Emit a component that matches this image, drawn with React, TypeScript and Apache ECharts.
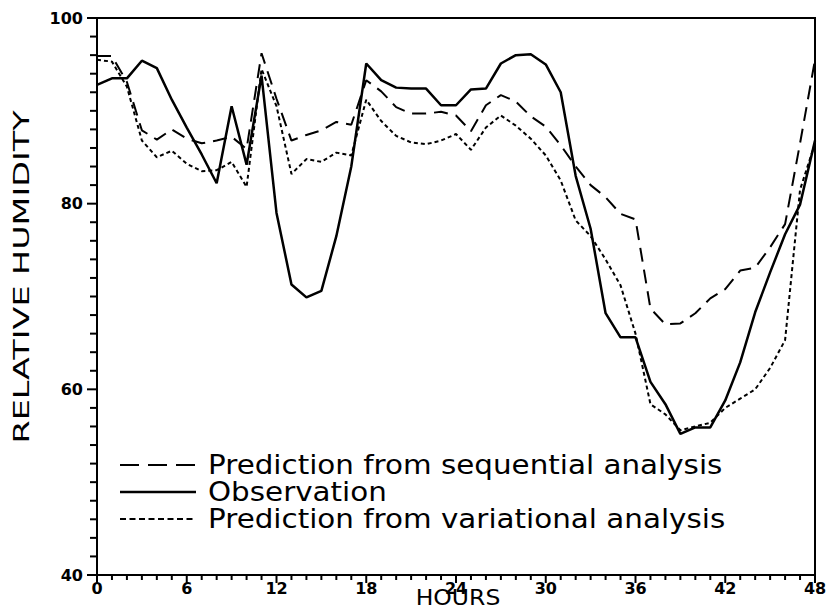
import React, { useEffect, useRef } from "react";
import * as echarts from "echarts";

const hours = [
  0, 1, 2, 3, 4, 5, 6, 7, 8, 9, 10, 11, 12, 13, 14, 15, 16, 17, 18, 19, 20, 21, 22, 23, 24,
  25, 26, 27, 28, 29, 30, 31, 32, 33, 34, 35, 36, 37, 38, 39, 40, 41, 42, 43, 44, 45, 46, 47, 48,
];

const sequential = [
  95.9, 95.9, 93.1, 87.9, 86.9, 88.0, 87.0, 86.5, 86.8, 87.2,
  85.9, 96.2, 91.3, 86.8, 87.4, 87.9, 88.8, 88.5, 93.3, 92.1,
  90.4, 89.7, 89.7, 89.9, 89.5, 87.8, 90.6, 91.7, 91.0, 89.4,
  88.3, 86.3, 84.0, 82.0, 80.7, 78.9, 78.3, 68.7, 67.0, 67.1,
  68.2, 69.8, 70.8, 72.8, 73.1, 75.3, 77.8, 86.5, 95.5,
];

const observation = [
  92.8, 93.5, 93.5, 95.4, 94.6, 91.2, 88.2, 85.3, 82.2, 90.5,
  84.2, 93.8, 79.0, 71.3, 69.9, 70.6, 76.5, 84.0, 95.1, 93.3,
  92.5, 92.4, 92.4, 90.6, 90.6, 92.3, 92.4, 95.1, 96.0, 96.1,
  95.0, 92.0, 83.0, 77.3, 68.2, 65.6, 65.6, 60.8, 58.4, 55.2,
  55.9, 55.9, 58.8, 62.9, 68.3, 72.6, 76.7, 79.9, 86.8,
];

const variational = [
  95.5, 95.3, 92.6, 86.8, 85.0, 85.7, 84.3, 83.5, 83.6, 84.5,
  81.8, 94.5, 90.5, 83.2, 84.8, 84.5, 85.5, 85.2, 91.2, 88.9,
  87.3, 86.6, 86.4, 86.8, 87.5, 85.8, 88.2, 89.5, 88.4, 87.0,
  85.2, 82.5, 78.2, 76.5, 74.0, 71.2, 66.0, 58.4, 57.3, 55.6,
  56.0, 56.4, 58.0, 59.0, 60.0, 62.3, 65.3, 81.5, 86.5,
];

const seriesNames = [
  "Prediction from sequential analysis",
  "Observation",
  "Prediction from variational analysis",
];

// tick positions (every hour on x, every 2 % on y)
const xTickValues = hours;
const yTickValues = [
  40, 42, 44, 46, 48, 50, 52, 54, 56, 58, 60, 62, 64, 66, 68, 70,
  72, 74, 76, 78, 80, 82, 84, 86, 88, 90, 92, 94, 96, 98, 100,
];

const xAxisTitle = "HOURS";
const yAxisTitle = "RELATIVE HUMIDITY";

export default function App() {
  const ref = useRef<HTMLDivElement>(null);

  useEffect(() => {
    const chart = echarts.init(ref.current!, null, { renderer: "svg" });
    const toPairs = (vals: number[]) => hours.map((h, i) => [h, vals[i]]);
    const seriesData = [sequential, observation, variational];
    const lineTypes: any[] = [[14, 8], "solid", [4, 3]];
    const lineWidths = [2, 2.5, 2];
    const legendDash: any[] = [[19, 9], null, [6, 3.5]];
    const legendY = [465, 492, 519];
    const font = "DejaVu Sans";

    const legendGraphics: any[] = [];
    seriesNames.forEach((name, i) => {
      legendGraphics.push({
        type: "line",
        shape: { x1: 120, y1: legendY[i], x2: 196, y2: legendY[i] },
        style: {
          stroke: "#000",
          lineWidth: lineWidths[i],
          lineDash: legendDash[i] || undefined,
        },
      });
      legendGraphics.push({
        type: "text",
        x: 208,
        y: legendY[i],
        scaleX: 1.13,
        style: {
          text: name,
          fill: "#000",
          font: `26px "${font}"`,
          textAlign: "left",
          textVerticalAlign: "middle",
        },
      });
    });

    const xTickSeries = {
      type: "custom",
      name: "xTicks",
      silent: true,
      clip: false,
      z: 10,
      data: xTickValues.map((h) => [h, 40]),
      renderItem: (_p: any, api: any) => {
        const v = api.value(0);
        const pt = api.coord([v, api.value(1)]);
        const len = v % 6 === 0 ? 8 : 5;
        return {
          type: "line",
          shape: { x1: pt[0], y1: pt[1], x2: pt[0], y2: pt[1] + len },
          style: { stroke: "#000", lineWidth: 2 },
        };
      },
    };

    const yTickSeries = {
      type: "custom",
      name: "yTicks",
      silent: true,
      clip: false,
      z: 10,
      data: yTickValues.map((v) => [0, v]),
      renderItem: (_p: any, api: any) => {
        const v = api.value(1);
        const pt = api.coord([api.value(0), v]);
        const len = v % 20 === 0 ? 10 : 7;
        return {
          type: "line",
          shape: { x1: pt[0] - len, y1: pt[1], x2: pt[0], y2: pt[1] },
          style: { stroke: "#000", lineWidth: 2 },
        };
      },
    };

    const option: any = {
      animation: false,
      backgroundColor: "#fff",
      grid: {
        left: 97,
        right: 17,
        top: 18,
        bottom: 33,
        show: true,
        backgroundColor: "transparent",
        borderColor: "#000",
        borderWidth: 2,
      },
      xAxis: {
        type: "value",
        min: 0,
        max: 48,
        interval: 6,
        axisLine: { show: true, onZero: false, lineStyle: { color: "#000", width: 2 } },
        axisTick: { show: false },
        minorTick: { show: false },
        splitLine: { show: false },
        minorSplitLine: { show: false },
        axisLabel: { color: "#000", fontSize: 16, fontWeight: "bold", fontFamily: font, margin: 5 },
      },
      yAxis: {
        type: "value",
        min: 40,
        max: 100,
        interval: 20,
        axisLine: { show: true, onZero: false, lineStyle: { color: "#000", width: 2 } },
        axisTick: { show: false },
        minorTick: { show: false },
        splitLine: { show: false },
        minorSplitLine: { show: false },
        axisLabel: { color: "#000", fontSize: 16, fontWeight: "bold", fontFamily: font, margin: 14 },
      },
      series: [
        ...seriesNames.map((name, i) => ({
          name,
          type: "line",
          data: toPairs(seriesData[i]),
          symbol: "none",
          lineStyle: { color: "#000", width: lineWidths[i], type: lineTypes[i] },
          z: i === 1 ? 3 : 2,
        })),
        xTickSeries,
        yTickSeries,
      ],
      graphic: [
        ...legendGraphics,
        {
          type: "text",
          x: 458,
          y: 597,
          scaleX: 1.12,
          style: {
            text: xAxisTitle,
            fill: "#000",
            font: `21px "${font}"`,
            textAlign: "center",
            textVerticalAlign: "middle",
          },
        },
        {
          type: "text",
          x: 22,
          y: 277,
          rotation: Math.PI / 2,
          scaleX: 1.59,
          style: {
            text: yAxisTitle,
            fill: "#000",
            font: `21px "${font}"`,
            textAlign: "center",
            textVerticalAlign: "middle",
          },
        },
      ],
    };

    chart.setOption(option);
    return () => chart.dispose();
  }, []);

  return (
    <div
      ref={ref}
      style={{ position: "fixed", left: 0, top: 0, width: 832, height: 608 }}
    />
  );
}
